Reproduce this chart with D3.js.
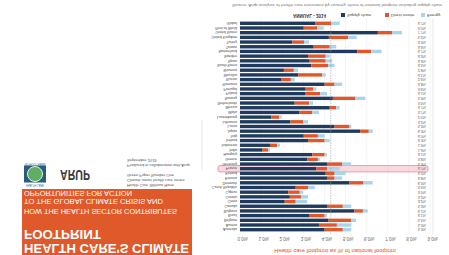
<!DOCTYPE html>
<html>
<head>
<meta charset="utf-8">
<script src="https://cdn.jsdelivr.net/npm/d3@7"></script>
<style>
  body { margin: 0; background: #fff; }
  svg { display: block; }
  text { font-family: "Liberation Sans", Arial, sans-serif; }
</style>
</head>
<body>
<div id="page"></div>
<script>
// Chart data (order as printed, top to bottom before the page flip)
const countries = [
  'Australia', 'Austria', 'Belgium', 'Brazil', 'Bulgaria', 'Canada', 'China', 'Croatia', 'Cyprus',
  'Czech Republic', 'Denmark', 'Estonia', 'Finland', 'France', 'Germany', 'Greece', 'Hungary',
  'India', 'Indonesia', 'Ireland', 'Italy', 'Japan', 'Latvia', 'Lithuania', 'Luxembourg', 'Malta',
  'Mexico', 'Netherlands', 'Norway', 'Poland', 'Portugal', 'Romania', 'Russia', 'Slovakia',
  'Slovenia', 'South Korea', 'Spain', 'Sweden', 'Switzerland', 'Taiwan', 'Turkey',
  'United Kingdom', 'United States', 'Rest of World', 'Global'
];
const supplyChain = [
  4.01, 3.74, 4.17, 3.30, 5.42, 4.12, 2.12, 2.36, 2.28, 2.64, 5.19, 4.12, 4.06, 3.62, 4.12,
  3.18, 3.43, 1.07, 1.42, 3.22, 3.02, 5.69, 4.48, 2.39, 1.49, 2.80, 4.25, 2.59, 4.40, 3.11,
  3.11, 4.01, 1.97, 2.77, 2.08, 3.38, 3.30, 3.22, 5.55, 3.49, 2.48, 4.21, 6.53, 3.02, 3.58
];
const direct = [
  0.86, 0.85, 1.10, 0.71, 0.40, 0.75, 0.52, 0.55, 0.55, 0.58, 0.66, 0.36, 0.42, 0.50, 0.72,
  0.51, 0.58, 0.27, 0.34, 0.79, 0.67, 0.41, 0.71, 0.60, 0.37, 0.63, 0.31, 0.68, 1.07, 0.69,
  0.35, 0.47, 0.44, 1.13, 0.47, 0.79, 0.76, 0.84, 0.66, 0.76, 0.55, 0.92, 0.67, 0.63, 0.74
];
const energy = [
  0.40, 0.68, 0.23, 0.11, 0.23, 0.40, 0.54, 0.31, 0.16, 0.32, 0.44, 0.36, 0.52, 0.60, 0.43,
  0.11, 0.11, 0.08, 0.13, 0.24, 0.32, 0.19, 0.08, 0.23, 0.11, 0.31, 0.16, 0.19, 0.47, 0.32,
  0.16, 0.36, 0.18, 0.16, 0.20, 0.31, 0.31, 0.19, 0.50, 0.31, 0.24, 0.40, 0.47, 0.31, 0.40
];
const seriesNames = ['Supply chain', 'Direct onsite', 'Energy'];
const tickValues = [0, 1, 2, 3, 4, 5, 6, 7, 8, 9];
const highlighted = 'France';
const averageShare = 4.3;

const W = 449, H = 255;
const colors = ['#1f3a5c', '#e0572c', '#a9d4ea'];

// The reference page is photographed upside down, so everything is drawn
// in page coordinates inside a vertically mirrored group.
const svg = d3.select('#page').append('svg')
  .attr('width', W)
  .attr('height', H);

svg.append('rect').attr('width', W).attr('height', H).attr('fill', '#fff');

const page = svg.append('g')
  .attr('transform', `translate(0, ${H}) scale(1, -1)`);

function renderCover(g) {
  // Orange title block
  g.append('rect')
    .attr('x', 22).attr('y', -2)
    .attr('width', 170).attr('height', 68)
    .attr('fill', '#e0592a');

  const lines = [
    { t: "HEALTH CARE'S CLIMATE", y: 11.5, size: 12.5, w: 165, bold: true },
    { t: 'FOOTPRINT', y: 25, size: 12.5, w: 77, bold: true },
    { t: 'HOW THE HEALTH SECTOR CONTRIBUTES', y: 46, size: 7.5, w: 153 },
    { t: 'TO THE GLOBAL CLIMATE CRISIS AND', y: 55.7, size: 7.5, w: 139 },
    { t: 'OPPORTUNITIES FOR ACTION', y: 64.3, size: 7.5, w: 108 }
  ];
  g.selectAll('text.cover')
    .data(lines)
    .join('text')
    .attr('class', 'cover')
    .attr('x', 24)
    .attr('y', d => d.y)
    .attr('font-size', d => d.size)
    .attr('font-weight', d => d.bold ? 'bold' : 'normal')
    .attr('textLength', d => d.w)
    .attr('lengthAdjust', 'spacingAndGlyphs')
    .attr('fill', '#fff')
    .text(d => d.t);

  // Health Care Without Harm logo
  const logo = g.append('g');
  logo.append('text').attr('x', 35).attr('y', 71).attr('text-anchor', 'middle')
    .attr('font-size', 2.6).attr('fill', '#2b6a8a').text('HEALTH CARE');
  logo.append('rect').attr('x', 24).attr('y', 72.5).attr('width', 22).attr('height', 17)
    .attr('fill', '#2a5d7c');
  logo.append('circle').attr('cx', 35).attr('cy', 81).attr('r', 7.5)
    .attr('fill', '#5fae63').attr('stroke', '#e8f2e0').attr('stroke-width', 1);
  logo.append('text').attr('x', 35).attr('y', 92.5).attr('text-anchor', 'middle')
    .attr('font-size', 2.6).attr('fill', '#2b6a8a').text('WITHOUT HARM');

  g.append('text')
    .attr('x', 60).attr('y', 85)
    .attr('font-size', 14).attr('font-weight', 'bold')
    .attr('textLength', 30).attr('lengthAdjust', 'spacingAndGlyphs')
    .attr('fill', '#3a3a3a')
    .text('ARUP');

  const notes = [
    { t: 'Health Care Without Harm', y: 71.5 },
    { t: 'Climate-smart health care series', y: 76.5 },
    { t: 'Green Paper Number One', y: 81.5 },
    { t: 'Produced in collaboration with Arup', y: 91.5 },
    { t: 'September 2019', y: 96.5 }
  ];
  g.selectAll('text.note')
    .data(notes)
    .join('text')
    .attr('class', 'note')
    .attr('x', 127)
    .attr('y', d => d.y)
    .attr('font-size', 4)
    .attr('fill', '#555')
    .text(d => d.t);

  g.append('line')
    .attr('x1', 202).attr('x2', 202).attr('y1', 85).attr('y2', 135)
    .attr('stroke', '#e6e6e6').attr('stroke-width', 1);
}

function renderChart(g) {
  const rows = countries.map((c, i) => ({
    country: c,
    'Supply chain': supplyChain[i],
    'Direct onsite': direct[i],
    'Energy': energy[i],
    total: supplyChain[i] + direct[i] + energy[i]
  }));

  const x = d3.scaleLinear().domain([0, 9]).range([240, 430]);
  const y = d3.scaleBand().domain(countries).range([22.3, 234.7]).padding(0.28);
  const color = d3.scaleOrdinal().domain(seriesNames).range(colors);

  // Title under the chart (top of the page before flip)
  g.append('text')
    .attr('x', 335).attr('y', 6.5)
    .attr('text-anchor', 'middle')
    .attr('font-size', 6)
    .attr('fill', '#e0572c')
    .text('Health care footprint as % of national footprint');

  // Grid lines
  g.append('g')
    .selectAll('line')
    .data(tickValues)
    .join('line')
    .attr('x1', d => x(d)).attr('x2', d => x(d))
    .attr('y1', 21).attr('y2', 236)
    .attr('stroke', '#efefef').attr('stroke-width', 0.6);

  g.append('line')
    .attr('x1', 433).attr('x2', 433).attr('y1', 21).attr('y2', 236)
    .attr('stroke', '#dcdcdc').attr('stroke-width', 0.7);

  // Axis
  const axis = g.append('g')
    .attr('transform', 'translate(2, 20)')
    .call(d3.axisTop(x).tickValues(tickValues).tickSize(0).tickPadding(2)
      .tickFormat(d => d3.format('.1f')(d) + '%'));
  axis.select('.domain').remove();
  axis.selectAll('text').attr('font-size', 4.5).attr('fill', '#666')
    .attr('font-family', '"Liberation Sans", Arial, sans-serif');

  // Highlight row
  g.append('rect')
    .attr('x', 218).attr('y', y(highlighted) + y.bandwidth() / 2 - 3.2)
    .attr('width', 210).attr('height', 6.4)
    .attr('rx', 2)
    .attr('fill', '#f6b9c2').attr('fill-opacity', 0.55)
    .attr('stroke', '#e58c9a').attr('stroke-width', 0.8);

  // Stacked bars
  const stacked = d3.stack().keys(seriesNames)(rows);
  g.append('g')
    .selectAll('g')
    .data(stacked)
    .join('g')
    .attr('fill', d => color(d.key))
    .selectAll('rect')
    .data(d => d)
    .join('rect')
    .attr('x', d => x(d[0]))
    .attr('y', d => y(d.data.country))
    .attr('width', d => x(d[1]) - x(d[0]))
    .attr('height', y.bandwidth());

  // Average line
  g.append('line')
    .attr('x1', x(averageShare)).attr('x2', x(averageShare))
    .attr('y1', 21).attr('y2', 236)
    .attr('stroke', '#999').attr('stroke-width', 0.6)
    .attr('stroke-dasharray', '1.5,1');

  // Country labels
  g.append('g')
    .selectAll('text')
    .data(rows)
    .join('text')
    .attr('x', 237)
    .attr('y', d => y(d.country) + y.bandwidth() / 2)
    .attr('dy', '0.35em')
    .attr('text-anchor', 'end')
    .attr('font-size', 3.6)
    .attr('fill', '#444')
    .text(d => d.country);

  // Totals column
  g.append('g')
    .selectAll('text')
    .data(rows)
    .join('text')
    .attr('x', 426)
    .attr('y', d => y(d.country) + y.bandwidth() / 2)
    .attr('dy', '0.35em')
    .attr('text-anchor', 'end')
    .attr('font-size', 3.6)
    .attr('fill', '#555')
    .text(d => d3.format('.1f')(d.total) + '%');

  // Legend
  const legend = g.append('g');
  legend.append('text')
    .attr('x', 293).attr('y', 241.5)
    .attr('font-size', 4.5).attr('font-weight', 'bold').attr('fill', '#333')
    .text('ANNUAL - 2014');
  const items = legend.selectAll('g.item')
    .data(seriesNames)
    .join('g')
    .attr('class', 'item')
    .attr('transform', (d, i) => `translate(${[341, 385, 421][i]}, 238)`);
  items.append('rect').attr('width', 4).attr('height', 4).attr('fill', d => color(d));
  items.append('text')
    .attr('x', 6).attr('y', 3.5)
    .attr('font-size', 4.2).attr('fill', '#444')
    .text(d => d);

  g.append('text')
    .attr('x', 232).attr('y', 251.5)
    .attr('font-size', 4)
    .attr('textLength', 210).attr('lengthAdjust', 'spacingAndGlyphs')
    .attr('fill', '#777')
    .text('Source: Arup analysis of health care emissions by country, share of national footprint including supply chain');
}

renderCover(page);
renderChart(page);
</script>
</body>
</html>
